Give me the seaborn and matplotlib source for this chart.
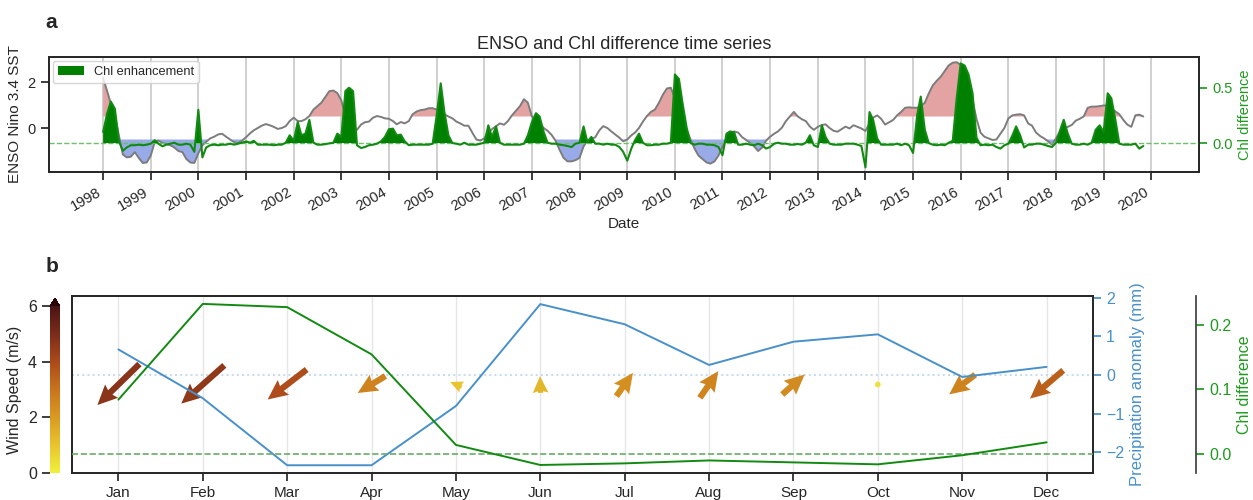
import numpy as np
import pandas as pd
import matplotlib
matplotlib.use("Agg")
import matplotlib.pyplot as plt
from matplotlib.colors import LinearSegmentedColormap, Normalize
from matplotlib.transforms import blended_transform_factory
import seaborn as sns

sns.set_theme(style="ticks")
plt.rcParams["font.family"] = ["Liberation Sans", "DejaVu Sans"]
plt.rcParams["axes.unicode_minus"] = True

# ---------------- Panel a data (monthly, 1998-01 .. 2019-11) ----------------
enso_1998 = [2.17, 1.6, 1.05, 0.55, -0.3, -1.15, -1.28, -1.25, -1.05, -1.3, -1.52, -1.5]
enso_1999 = [-1.2, -0.6, -0.55, -0.65, -0.7, -0.75, -0.85, -1.0, -1.05, -1.35, -1.5, -1.52]
enso_2000 = [-1.1, -0.75, -0.6, -0.45, -0.38, -0.28, -0.25, -0.38, -0.5, -0.62, -0.65, -0.55]
enso_2001 = [-0.4, -0.23, -0.1, 0.0, 0.1, 0.17, 0.12, 0.05, -0.04, 0.0, 0.08, 0.3]
enso_2002 = [0.45, 0.3, 0.3, 0.38, 0.52, 0.8, 0.95, 1.1, 1.35, 1.6, 1.63, 1.52]
enso_2003 = [1.2, 0.5, 0.2, 0.0, -0.08, 0.15, 0.25, 0.28, 0.45, 0.52, 0.48, 0.42]
enso_2004 = [0.4, 0.3, 0.16, 0.26, 0.2, 0.3, 0.6, 0.72, 0.78, 0.8, 0.86, 0.86]
enso_2005 = [0.8, 0.75, 0.6, 0.5, 0.42, 0.28, 0.2, 0.1, 0.1, -0.2, -0.5, -0.55]
enso_2006 = [-0.45, -0.2, -0.05, 0.08, 0.2, 0.14, 0.3, 0.55, 0.75, 0.95, 1.25, 1.1]
enso_2007 = [0.5, 0.3, 0.2, 0.0, -0.12, -0.3, -0.55, -0.95, -1.3, -1.45, -1.45, -1.4]
enso_2008 = [-1.3, -0.8, -0.55, -0.48, -0.4, -0.1, 0.08, 0.0, -0.15, -0.28, -0.42, -0.58]
enso_2009 = [-0.5, -0.32, -0.2, 0.0, 0.28, 0.52, 0.7, 0.8, 1.1, 1.45, 1.72, 1.75]
enso_2010 = [1.3, 0.9, 0.4, -0.1, -0.5, -0.9, -1.2, -1.35, -1.5, -1.55, -1.45, -1.2]
enso_2011 = [-0.8, -0.5, -0.2, -0.15, -0.2, -0.4, -0.52, -0.65, -0.8, -1.0, -0.85, -0.55]
enso_2012 = [-0.38, -0.25, -0.15, 0.02, 0.3, 0.5, 0.7, 0.5, 0.38, 0.3, 0.06, -0.08]
enso_2013 = [0.05, 0.13, 0.16, 0.0, -0.12, -0.16, -0.05, 0.06, -0.02, 0.12, 0.05, -0.02]
enso_2014 = [-0.13, 0.2, 0.45, 0.55, 0.4, 0.15, 0.25, 0.35, 0.55, 0.7, 0.88, 0.9]
enso_2015 = [0.88, 0.88, 0.95, 1.1, 1.5, 1.85, 2.05, 2.23, 2.48, 2.72, 2.84, 2.86]
enso_2016 = [2.75, 2.4, 1.9, 1.2, 0.4, -0.2, -0.38, -0.45, -0.52, -0.5, -0.25, 0.0]
enso_2017 = [0.42, 0.55, 0.58, 0.6, 0.55, 0.2, 0.1, -0.2, -0.35, -0.45, -0.58, -0.72]
enso_2018 = [-0.45, -0.15, -0.05, 0.05, 0.13, 0.32, 0.4, 0.5, 0.88, 0.93, 0.93, 0.95]
enso_2019 = [0.98, 0.98, 0.86, 0.72, 0.6, 0.35, 0.15, 0.05, 0.55, 0.58, 0.5]

chl_1998 = [0.1, 0.27, 0.375, 0.31, 0.02, -0.07, -0.04, -0.02, -0.02, -0.015, -0.02, -0.015]
chl_1999 = [-0.006, 0.025, -0.006, -0.03, -0.015, -0.006, 0.003, -0.015, -0.015, -0.006, -0.015, -0.08]
chl_2000 = [0.3, -0.13, -0.04, -0.02, -0.015, -0.02, -0.015, -0.015, -0.006, -0.015, -0.006, 0.003]
chl_2001 = [0.015, 0.003, 0.02, -0.015, -0.015, -0.015, -0.015, -0.02, -0.015, -0.015, 0.003, 0.07]
chl_2002 = [0.02, 0.19, 0.07, 0.085, 0.21, 0.003, -0.015, -0.015, -0.01, -0.003, 0.003, 0.085]
chl_2003 = [0.055, 0.47, 0.5, 0.47, -0.02, -0.045, -0.036, -0.02, -0.015, -0.006, 0.015, 0.055]
chl_2004 = [0.125, 0.13, 0.07, 0.076, 0.015, -0.02, -0.015, -0.015, -0.015, -0.015, -0.015, -0.006]
chl_2005 = [0.25, 0.54, 0.28, 0.07, 0.0, -0.006, -0.015, 0.003, -0.015, -0.015, -0.015, -0.006]
chl_2006 = [0.003, 0.16, 0.055, 0.15, 0.003, -0.015, -0.015, -0.015, -0.015, -0.015, -0.006, 0.07]
chl_2007 = [0.19, 0.27, 0.24, 0.1, 0.003, -0.006, -0.006, -0.015, -0.02, -0.027, -0.036, -0.006]
chl_2008 = [0.003, 0.15, 0.01, 0.055, -0.006, -0.006, -0.015, -0.006, -0.015, -0.015, -0.036, -0.08]
chl_2009 = [-0.16, -0.05, 0.025, 0.085, 0.003, -0.02, -0.02, -0.015, -0.015, -0.006, -0.006, 0.003]
chl_2010 = [0.62, 0.58, 0.36, 0.14, 0.0, -0.015, -0.006, -0.006, -0.015, -0.015, -0.02, -0.036]
chl_2011 = [-0.11, 0.085, 0.105, 0.095, -0.015, -0.015, -0.006, -0.015, -0.02, -0.006, -0.02, -0.05]
chl_2012 = [-0.036, -0.006, 0.003, -0.006, -0.006, -0.015, -0.015, -0.009, -0.015, 0.003, 0.07, -0.02]
chl_2013 = [-0.036, 0.16, 0.055, -0.006, -0.015, -0.015, -0.015, -0.006, -0.006, -0.006, -0.015, -0.027]
chl_2014 = [-0.22, 0.28, 0.21, 0.04, -0.015, -0.015, -0.015, -0.015, -0.006, -0.02, -0.006, -0.02]
chl_2015 = [-0.09, 0.25, 0.42, 0.12, 0.0, -0.015, -0.02, -0.015, -0.02, 0.003, 0.02, 0.4]
chl_2016 = [0.72, 0.7, 0.62, 0.45, 0.05, -0.02, -0.015, -0.02, -0.015, -0.036, -0.05, -0.02]
chl_2017 = [-0.006, 0.07, 0.15, 0.07, -0.04, -0.015, -0.015, -0.006, -0.006, -0.015, -0.027, -0.036]
chl_2018 = [0.003, 0.115, 0.21, 0.085, -0.006, -0.015, -0.015, -0.006, -0.015, 0.003, 0.12, 0.16]
chl_2019 = [0.1, 0.45, 0.405, 0.21, -0.006, -0.015, -0.015, -0.015, -0.006, -0.05, -0.027]

enso = np.array(enso_1998 + enso_1999 + enso_2000 + enso_2001 + enso_2002 + enso_2003 +
                enso_2004 + enso_2005 + enso_2006 + enso_2007 + enso_2008 + enso_2009 +
                enso_2010 + enso_2011 + enso_2012 + enso_2013 + enso_2014 + enso_2015 +
                enso_2016 + enso_2017 + enso_2018 + enso_2019)
chl = np.array(chl_1998 + chl_1999 + chl_2000 + chl_2001 + chl_2002 + chl_2003 +
               chl_2004 + chl_2005 + chl_2006 + chl_2007 + chl_2008 + chl_2009 +
               chl_2010 + chl_2011 + chl_2012 + chl_2013 + chl_2014 + chl_2015 +
               chl_2016 + chl_2017 + chl_2018 + chl_2019)
dates = pd.date_range("1998-01-01", periods=len(enso), freq="MS")
year_labels = [str(y) for y in range(1998, 2021)]

# ---------------- Panel b data (monthly climatology) ----------------
months = ["Jan", "Feb", "Mar", "Apr", "May", "Jun", "Jul", "Aug", "Sep", "Oct", "Nov", "Dec"]
precip = [0.66, -0.6, -2.33, -2.33, -0.8, 1.83, 1.31, 0.26, 0.86, 1.05, -0.05, 0.21]
chl_month = [0.084, 0.232, 0.227, 0.154, 0.014, -0.017, -0.0145, -0.010, -0.013, -0.016, -0.002, 0.018]
wind_u = [-3.36, -3.44, -3.12, -2.22, -0.93, -0.05, 1.33, 1.47, 1.79, -0.35, -2.08, -2.66]
wind_v = [-3.28, -3.06, -2.40, -1.36, 0.40, 1.33, 1.87, 2.13, 1.60, 0.10, -1.58, -2.26]

GREEN = "#128a12"
GREEN_TXT = "#1f9a1f"
BLUE = "#4a90c8"

fig = plt.figure(figsize=(12.53, 5.0), dpi=100)

# ================= Panel a =================
axa = fig.add_axes([0.03911, 0.656, 0.91780, 0.23])
axa.fill_between(dates, 0.5, enso, where=enso > 0.5, interpolate=True,
                 color="#e3a3a3", lw=0, zorder=1)
axa.fill_between(dates, -0.5, enso, where=enso < -0.5, interpolate=True,
                 color="#98aae8", lw=0, zorder=1)
sns.lineplot(x=dates, y=enso, ax=axa, color="#7c7c7c", lw=1.4, zorder=2)
axa.set_ylim(-1.913, 3.087)
axa.set_yticks([0, 2])
axa.set_xlim(pd.Timestamp("1996-11-12"), pd.Timestamp("2021-01-01"))
year_ticks = pd.to_datetime([f"{y}-01-01" for y in year_labels])
axa.set_xticks(year_ticks)
axa.set_xticklabels(year_labels, rotation=30, ha="right", fontsize=10.5)
axa.tick_params(axis="y", labelsize=10.5)
axa.grid(True, axis="x", color="#c4c4c4", lw=1.1)
axa.set_ylabel("ENSO Nino 3.4 SST", fontsize=11)
axa.set_xlabel("Date", fontsize=11, labelpad=2)
axa.set_title("ENSO and Chl difference time series", fontsize=13, pad=6)

axa2 = axa.twinx()
axa2.fill_between(dates, 0, chl, where=chl > 0, interpolate=True,
                  color="#008000", lw=0, label="Chl enhancement", zorder=2)
sns.lineplot(x=dates, y=chl, ax=axa2, color=GREEN, lw=1.5, zorder=3)
axa2.axhline(0, color="#6cc06c", ls="--", lw=1.0, zorder=1)
axa2.set_ylim(-0.262, 0.778)
axa2.set_yticks([0.0, 0.5])
axa2.set_yticklabels(["0.0", "0.5"])
axa2.tick_params(axis="y", colors=GREEN_TXT, labelsize=10.5)
axa2.spines["right"].set_color(".15")
axa2.set_ylabel("Chl difference", color=GREEN_TXT, fontsize=10.5)
axa2.legend(loc="upper left", fontsize=9.2, frameon=True, borderpad=0.4,
            handlelength=2.0, borderaxespad=0.3)

# ================= Panel b =================
xpos = np.arange(len(months))
axb = fig.add_axes([0.05746, 0.054, 0.81484, 0.354])
axb.set_ylim(-1, 1)
axb.set_yticks([])
axb.set_xlim(-0.55, 11.55)
axb.set_xticks(xpos)
axb.set_xticklabels(months, fontsize=11)
axb.grid(True, axis="x", color="#e6e6e6", lw=1.0)

axp = axb.twinx()
sns.lineplot(x=xpos, y=precip, ax=axp, color=BLUE, lw=1.4, zorder=3)
axp.set_ylim(-2.53, 2.04)
axp.set_yticks([-2, -1, 0, 1, 2])
axp.tick_params(axis="y", colors=BLUE, labelsize=11.5)
axp.spines["right"].set_color(".15")
axp.set_ylabel("Precipitation anomaly (mm)", color=BLUE, fontsize=12)

# zero-precipitation reference line drawn beneath the wind arrows
axb.plot([0, 1], [0, 0], transform=blended_transform_factory(axb.transAxes, axp.transData),
         color="#c4daee", ls=":", lw=1.4, zorder=1)

speed = np.hypot(wind_u, wind_v)
cmap = LinearSegmentedColormap.from_list(
    "wind", ["#f0f03c", "#e8c42e", "#d99a22", "#c8741c", "#ac4a1a", "#7c2c1a", "#4a1414"])
cmap.set_over("#2a0606")
norm = Normalize(vmin=0, vmax=6)
axb.quiver(xpos, np.zeros(len(months)), wind_u, wind_v, speed, cmap=cmap, norm=norm,
           pivot="middle", angles="uv", scale_units="inches", scale=8.0,
           units="inches", width=0.062, headwidth=3, headlength=3.2, headaxislength=2.9,
           zorder=2)

axc = axb.twinx()
axc.spines["right"].set_position(("axes", 1.1009))
for s in ["top", "left", "bottom"]:
    axc.spines[s].set_visible(False)
axc.spines["right"].set_color(".25")
axc.axhline(0, color="#6aaa6a", ls="--", lw=1.2, zorder=1)
sns.lineplot(x=xpos, y=chl_month, ax=axc, color=GREEN, lw=1.4, zorder=3)
axc.set_ylim(-0.0294, 0.2442)
axc.set_yticks([0.0, 0.1, 0.2])
axc.set_yticklabels(["0.0", "0.1", "0.2"])
axc.tick_params(axis="y", colors=GREEN_TXT, labelsize=11.5)
axc.set_ylabel("Chl difference", color=GREEN_TXT, fontsize=11.5)

cax = fig.add_axes([0.0399, 0.054, 0.00798, 0.35])
sm = plt.cm.ScalarMappable(norm=norm, cmap=cmap)
cbar = fig.colorbar(sm, cax=cax, extend="max", ticks=[0, 2, 4, 6])
cbar.outline.set_visible(False)
cax.yaxis.set_ticks_position("left")
cax.yaxis.set_label_position("left")
cax.tick_params(labelsize=11.5)
cbar.set_label("Wind Speed (m/s)", fontsize=11.5)

fig.text(0.036, 0.944, "a", fontsize=15, fontweight="bold")
fig.text(0.036, 0.456, "b", fontsize=15, fontweight="bold")

fig.savefig("out.png", dpi=100)
